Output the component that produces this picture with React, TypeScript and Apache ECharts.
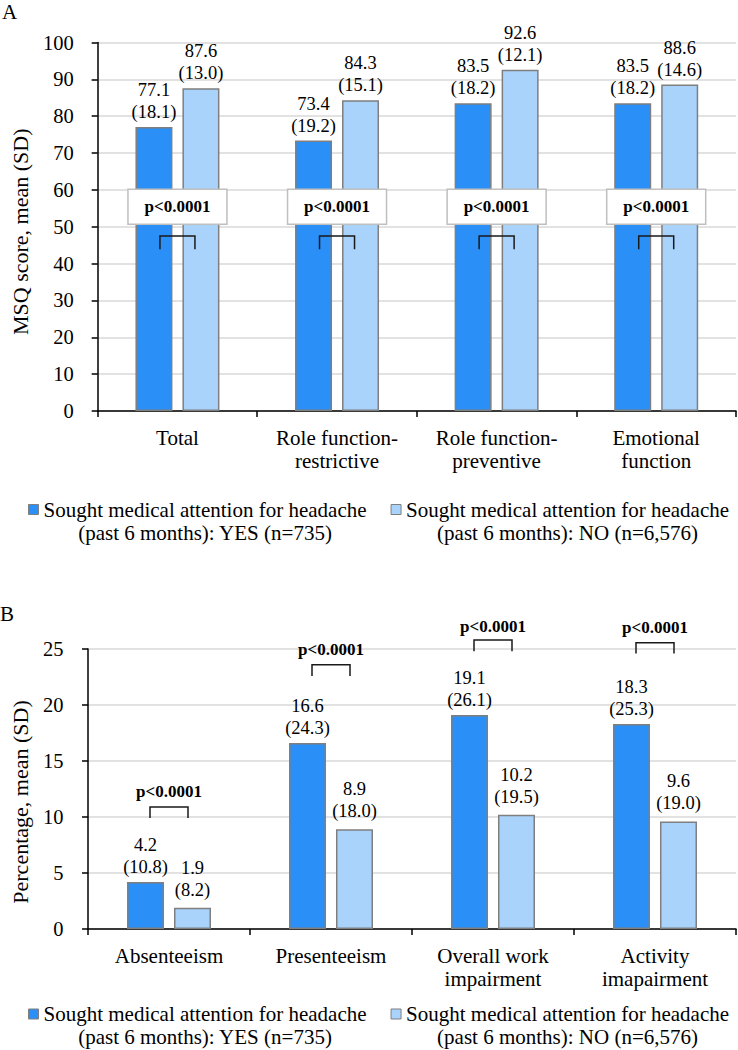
import React, { useEffect, useRef } from "react";
import * as echarts from "echarts";

const FONT = "'Liberation Serif', 'Times New Roman', serif";

// Panel A: MSQ scores
const msqCategories = ["Total", "Role function-\nrestrictive", "Role function-\npreventive", "Emotional\nfunction"];
const msqYesMean = [77.1, 73.4, 83.5, 83.5];
const msqYesSD = [18.1, 19.2, 18.2, 18.2];
const msqNoMean = [87.6, 84.3, 92.6, 88.6];
const msqNoSD = [13.0, 15.1, 12.1, 14.6];
const msqPText = [55.4, 55.4, 55.4, 55.4];
const msqBracketTop = [47.5, 47.5, 47.5, 47.5];
const msqBracketLeg = [43.9, 43.9, 43.9, 43.9];

// Panel B: WPAI percentages
const wpaiCategories = ["Absenteeism", "Presenteeism", "Overall work\nimpairment", "Activity\nimapairment"];
const wpaiYesMean = [4.2, 16.6, 19.1, 18.3];
const wpaiYesSD = [10.8, 24.3, 26.1, 25.3];
const wpaiNoMean = [1.9, 8.9, 10.2, 9.6];
const wpaiNoSD = [8.2, 18.0, 19.5, 19.0];
const wpaiPText = [12.3, 25.0, 27.0, 26.9];
const wpaiBracketTop = [10.9, 23.6, 25.8, 25.55];
const wpaiBracketLeg = [9.9, 22.6, 24.8, 24.6];

const pLabel = "p<0.0001";
const yesName = "Sought medical attention for headache\n(past 6 months): YES (n=735)";
const noName = "Sought medical attention for headache\n(past 6 months): NO (n=6,576)";

const YES_COLOR = "#2a8ff7";
const NO_COLOR = "#a9d3fb";
const BORDER = "#7f7f7f";

function barLabel(sd: number[], distance: number) {
  return {
    show: true,
    position: "top",
    distance,
    formatter: (p: any) => `${p.value.toFixed(1)}\n(${sd[p.dataIndex].toFixed(1)})`,
    fontFamily: FONT,
    fontSize: 18.5,
    lineHeight: 22,
    color: "#000",
  };
}

function makeAnnot(box: boolean, halfW: number) {
  return (params: any, api: any) => {
    const idx = api.value(0);
    const cx = api.coord([idx, 0])[0];
    const ty = api.coord([idx, api.value(1)])[1];
    const by = api.coord([idx, api.value(2)])[1];
    const ly = api.coord([idx, api.value(3)])[1];
    const children: any[] = [];
    if (box) {
      children.push({
        type: "rect",
        shape: { x: cx - 49.5, y: ty - 17.5, width: 99, height: 35 },
        style: { fill: "#fff", stroke: "#bfbfbf", lineWidth: 1.5 },
      });
    }
    children.push({
      type: "text",
      style: {
        text: pLabel,
        x: cx,
        y: ty,
        align: "center",
        verticalAlign: "middle",
        fontFamily: FONT,
        fontSize: 17,
        fontWeight: "bold",
        fill: "#000",
      },
    });
    children.push({
      type: "polyline",
      shape: { points: [[cx - halfW, ly], [cx - halfW, by], [cx + halfW, by], [cx + halfW, ly]] },
      style: { stroke: "#1a1a1a", lineWidth: 1.5, fill: "none" },
    });
    return { type: "group", children };
  };
}

function legendFormatter(name: string) {
  const [a, b] = name.split("\n");
  return `{a|${a}}\n{b|${b}}`;
}

function makeLegend(top: number) {
  return {
    top,
    left: 28,
    padding: 0,
    orient: "horizontal",
    itemWidth: 10,
    itemHeight: 10,
    itemGap: 24,
    icon: "rect",
    data: [yesName, noName],
    itemStyle: { borderColor: BORDER, borderWidth: 1 },
    formatter: legendFormatter,
    textStyle: {
      fontFamily: FONT,
      fontSize: 21,
      lineHeight: 23,
      color: "#000",
      padding: [23, 0, 0, 0],
      rich: {
        a: { fontFamily: FONT, fontSize: 21, lineHeight: 23, color: "#000", align: "center" },
        b: { fontFamily: FONT, fontSize: 21, lineHeight: 23, color: "#000", align: "center" },
      },
    },
  };
}

function xAxis(gridIndex: number, data: string[]) {
  return {
    type: "category",
    gridIndex,
    data,
    axisLine: { show: true, lineStyle: { color: "#000", width: 1.5 } },
    axisTick: { show: true, length: 6, lineStyle: { color: "#000", width: 1.5 } },
    axisLabel: { interval: 0, margin: 15, fontFamily: FONT, fontSize: 21, lineHeight: 23.5, color: "#000" },
  };
}

function yAxis(
  gridIndex: number,
  max: number,
  interval: number,
  name: string,
  nameGap: number,
  nameShift: number,
  labelMargin: number
) {
  return {
    type: "value",
    gridIndex,
    min: 0,
    max,
    interval,
    name,
    nameLocation: "middle",
    nameGap,
    nameTextStyle: { fontFamily: FONT, fontSize: 22, lineHeight: 24, color: "#000", padding: [0, nameShift, 0, 0] },
    axisLine: { show: true, lineStyle: { color: "#000", width: 1.5 } },
    axisTick: { show: true, length: 6, lineStyle: { color: "#000", width: 1.5 } },
    axisLabel: { margin: labelMargin, fontFamily: FONT, fontSize: 20.5, color: "#000" },
    splitLine: { show: true, lineStyle: { color: "#d9d9d9", width: 1.5 } },
  };
}

export default function App() {
  const ref = useRef<HTMLDivElement>(null);
  useEffect(() => {
    document.body.style.margin = "0";
    const chart = echarts.init(ref.current!, undefined, { renderer: "svg" });
    const barBase = {
      type: "bar",
      barWidth: 37,
      barGap: "27%",
    };
    chart.setOption({
      animation: false,
      backgroundColor: "#fff",
      textStyle: { fontFamily: FONT },
      grid: [
        { left: 86, top: 42.5, width: 650, height: 368.5 },
        { left: 88, top: 649, width: 648, height: 280 },
      ],
      xAxis: [xAxis(0, msqCategories), xAxis(1, wpaiCategories)],
      yAxis: [
        yAxis(0, 100, 10, "MSQ score, mean (SD)", 54, 10, 24),
        yAxis(1, 25, 5, "Percentage, mean (SD)", 52, 26, 24.5),
      ],
      legend: [makeLegend(475), makeLegend(979.5)],
      graphic: [
        { type: "text", left: 2, top: 1, style: { text: "A", fontFamily: FONT, fontSize: 21, fill: "#000" } },
        { type: "text", left: 0, top: 603, style: { text: "B", fontFamily: FONT, fontSize: 21, fill: "#000" } },
      ],
      series: [
        {
          ...barBase,
          name: yesName,
          xAxisIndex: 0,
          yAxisIndex: 0,
          data: msqYesMean,
          itemStyle: { color: YES_COLOR, borderColor: BORDER, borderWidth: 1.5 },
          label: barLabel(msqYesSD, 4),
        },
        {
          ...barBase,
          name: noName,
          xAxisIndex: 0,
          yAxisIndex: 0,
          data: msqNoMean,
          itemStyle: { color: NO_COLOR, borderColor: BORDER, borderWidth: 1.5 },
          label: barLabel(msqNoSD, 4),
        },
        {
          type: "custom",
          xAxisIndex: 0,
          yAxisIndex: 0,
          silent: true,
          z: 5,
          encode: { x: 0, y: [1, 2, 3] },
          data: msqCategories.map((_, i) => [i, msqPText[i], msqBracketTop[i], msqBracketLeg[i]]),
          renderItem: makeAnnot(true, 17.5),
        },
        {
          ...barBase,
          name: yesName,
          xAxisIndex: 1,
          yAxisIndex: 1,
          data: wpaiYesMean,
          itemStyle: { color: YES_COLOR, borderColor: BORDER, borderWidth: 1.5 },
          label: barLabel(wpaiYesSD, 4),
        },
        {
          ...barBase,
          name: noName,
          xAxisIndex: 1,
          yAxisIndex: 1,
          data: wpaiNoMean,
          itemStyle: { color: NO_COLOR, borderColor: BORDER, borderWidth: 1.5 },
          label: barLabel(wpaiNoSD, 7),
        },
        {
          type: "custom",
          xAxisIndex: 1,
          yAxisIndex: 1,
          silent: true,
          z: 5,
          encode: { x: 0, y: [1, 2, 3] },
          data: wpaiCategories.map((_, i) => [i, wpaiPText[i], wpaiBracketTop[i], wpaiBracketLeg[i]]),
          renderItem: makeAnnot(false, 19),
        },
      ],
    });
    return () => chart.dispose();
  }, []);
  return <div ref={ref} style={{ width: 738, height: 1050 }} />;
}
